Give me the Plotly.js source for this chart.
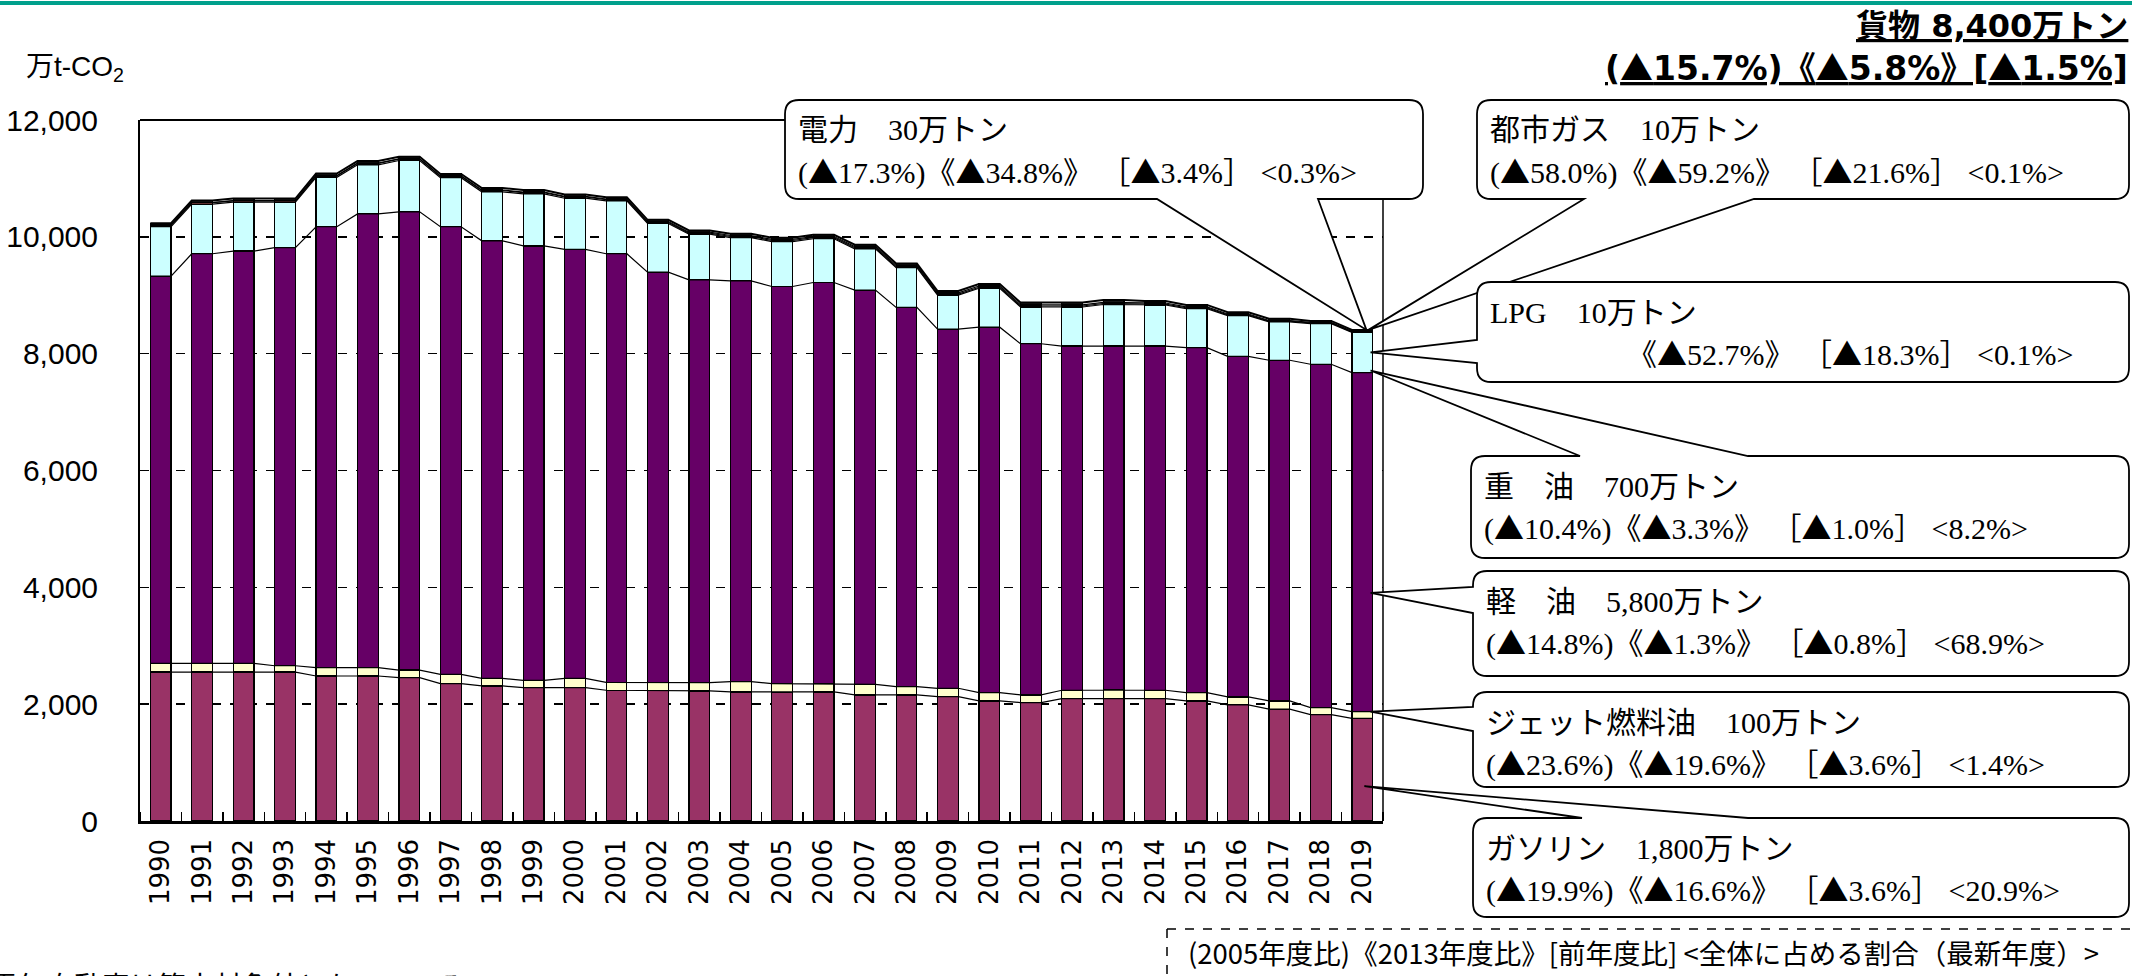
<!DOCTYPE html>
<html><head><meta charset="utf-8">
<script src="https://cdn.plot.ly/plotly-3.0.1.min.js"></script>
<style>html,body{margin:0;padding:0;background:#fff;}#chart{width:2132px;height:976px;}</style>
</head><body><div id="chart"></div>
<script>
// ---------- data (万t-CO2) ----------
const years = ['1990','1991','1992','1993','1994','1995','1996','1997','1998','1999','2000','2001','2002','2003','2004','2005','2006','2007','2008','2009','2010','2011','2012','2013','2014','2015','2016','2017','2018','2019'];
const gasoline    = [2550,2550,2550,2550,2482,2482,2454,2352,2312,2283,2283,2238,2238,2227,2210,2200,2210,2158,2158,2130,2056,2028,2096,2100,2096,2056,1988,1914,1820,1756];
const jetFuel     = [148,148,148,108,142,142,130,159,130,125,159,136,136,142,176,150,140,182,142,142,142,130,142,147,142,142,136,142,122,118];
const diesel      = [6628,7013,7059,7157,7549,7769,7844,7662,7489,7436,7344,7337,7021,6894,6860,6800,6868,6748,6493,6147,6255,6012,5892,5883,5892,5904,5831,5831,5877,5803];
const heavyOil    = [847,849,836,778,846,840,879,840,840,892,875,905,833,783,741,769,749,707,678,583,667,630,669,712,703,669,697,657,696,689];
const lpg         = [25,25,24,24,24,23,23,22,22,21,21,20,20,19,19,18,18,18,18,17,17,17,17,17,16,15,13,12,10,8];
const cityGas     = [3,3,4,4,5,6,7,8,9,10,11,12,13,15,17,19,20,21,21,21,21,21,20,20,18,16,14,12,10,8];
const electricity = [33,33,34,34,35,35,35,34,33,33,32,31,30,30,30,30,31,32,33,33,34,36,38,38,36,33,31,29,26,25];

const seriesNames  = ['ガソリン','ジェット燃料油','軽油','重油','LPG','都市ガス','電力'];
const seriesValues = [gasoline, jetFuel, diesel, heavyOil, lpg, cityGas, electricity];
const seriesColors = ['#993366','#FFFFCC','#660066','#CCFFFF','#FF8080','#9999FF','#1a1a1a'];

const yTicks = [0,2000,4000,6000,8000,10000,12000];
const totalTitle = ['貨物 8,400万トン','(▲15.7%)《▲5.8%》[▲1.5%]'];
const calloutTitles = ['電力　30万トン','都市ガス　10万トン','LPG　10万トン','重　油　700万トン','軽　油　5,800万トン','ジェット燃料油　100万トン','ガソリン　1,800万トン'];
const calloutRates = [
  '(▲17.3%)《▲34.8%》 ［▲3.4%］ &lt;0.3%&gt;',
  '(▲58.0%)《▲59.2%》 ［▲21.6%］ &lt;0.1%&gt;',
  '《▲52.7%》 ［▲18.3%］ &lt;0.1%&gt;',
  '(▲10.4%)《▲3.3%》 ［▲1.0%］ &lt;8.2%&gt;',
  '(▲14.8%)《▲1.3%》 ［▲0.8%］ &lt;68.9%&gt;',
  '(▲23.6%)《▲19.6%》 ［▲3.6%］ &lt;1.4%&gt;',
  '(▲19.9%)《▲16.6%》 ［▲3.6%］ &lt;20.9%&gt;'
];
const legendNote = '(2005年度比)《2013年度比》[前年度比] &lt;全体に占める割合（最新年度）&gt;';
const footNote = '電気自動車は算定対象外となっている';

// ---------- geometry ----------
const W=2132,H=976,L=140,R=1383,T=120,B=821;
const PW=R-L, PH=B-T, NCAT=years.length, YMAX=12000;
const X = px => (px-L)/PW;
const Y = py => (B-py)/PH;
const P = (px,py) => X(px).toFixed(5)+','+Y(py).toFixed(5);
const dataPx = (xd,v) => ({x: L+(xd+0.5)*PW/NCAT, y: B - v*PH/YMAX});
const tri = s => s.replace(/▲/g, '<span style="font-family:Noto Sans CJK JP">▲</span>');

const idx = years.map((_,i)=>i);
const traces = [];
seriesValues.forEach((vals,k)=>{
  traces.push({type:'bar', x:idx, y:vals, name:seriesNames[k], width:0.5,
    marker:{color:seriesColors[k], line:{color:'#000', width:1.2}}, hoverinfo:'skip'});
});
// series lines (connect top of each stacked segment)
const cum = [];
seriesValues.forEach((vals,k)=>{
  cum.push(vals.map((v,i)=> v + (k>0?cum[k-1][i]:0)));
});
cum.forEach((c,k)=>{
  const xs=[], ys=[];
  c.forEach((v,i)=>{ xs.push(i-0.25, i+0.25); ys.push(v, v); });
  traces.push({type:'scatter', mode:'lines', x:xs, y:ys, line:{color:'#000', width: k===cum.length-1?2:1.2}, hoverinfo:'skip'});
});

// ---------- callouts ----------
const boxes = [
  {x0:785, y0:100, x1:1423, y1:199, side:'bottom', a:1157, b:1318, s:6, f:1.0,  tx:29.1},
  {x0:1477,y0:100, x1:2129, y1:199, side:'bottom', a:1584, b:1754, s:6, f:1.0,  tx:29.15},
  {x0:1477,y0:282, x1:2129, y1:382, side:'left',   a:340,  b:363,  s:3, f:0.5,  tx:29.2},
  {x0:1471,y0:456, x1:2129, y1:558, side:'top',    a:1580, b:1748, s:3, f:0.05, tx:29.2},
  {x0:1473,y0:571, x1:2129, y1:676, side:'left',   a:587,  b:613,  s:2, f:0.35, tx:29.2},
  {x0:1473,y0:692, x1:2129, y1:787, side:'left',   a:707,  b:731,  s:1, f:1.0,  tx:29.2},
  {x0:1473,y0:818, x1:2129, y1:917, side:'top',    a:1582, b:1748, s:0, f:0.34, tx:29.05}
];
function calloutPath(b){
  const last = NCAT-1;
  const base = b.s>0 ? cum[b.s-1][last] : 0;
  const tip = dataPx(b.tx, base + b.f*seriesValues[b.s][last]);
  const r=14;
  let d='M'+P(b.x0+r,b.y0);
  if(b.side==='top') d+=' L'+P(b.a,b.y0)+' L'+P(tip.x,tip.y)+' L'+P(b.b,b.y0);
  d+=' L'+P(b.x1-r,b.y0)+' Q'+P(b.x1,b.y0)+' '+P(b.x1,b.y0+r);
  d+=' L'+P(b.x1,b.y1-r)+' Q'+P(b.x1,b.y1)+' '+P(b.x1-r,b.y1);
  if(b.side==='bottom') d+=' L'+P(b.b,b.y1)+' L'+P(tip.x,tip.y)+' L'+P(b.a,b.y1);
  d+=' L'+P(b.x0+r,b.y1)+' Q'+P(b.x0,b.y1)+' '+P(b.x0,b.y1-r);
  if(b.side==='left') d+=' L'+P(b.x0,b.b)+' L'+P(tip.x,tip.y)+' L'+P(b.x0,b.a);
  d+=' L'+P(b.x0,b.y0+r)+' Q'+P(b.x0,b.y0)+' '+P(b.x0+r,b.y0)+' Z';
  return d;
}

const shapes = [
  {type:'line', xref:'paper', yref:'paper', x0:X(0), x1:X(W), y0:Y(3), y1:Y(3), line:{color:'#00A08C', width:4}, layer:'above'},
  {type:'line', xref:'paper', yref:'paper', x0:0, x1:1, y0:1, y1:1, line:{color:'#000', width:1.8}, layer:'above'},
  {type:'line', xref:'paper', yref:'paper', x0:1, x1:1, y0:0, y1:1, line:{color:'#000', width:1.5}, layer:'above'},
  {type:'line', xref:'paper', yref:'paper', x0:X(1167), x1:X(W), y0:Y(929), y1:Y(929), line:{color:'#000', width:1.5, dash:'dash'}, layer:'above'},
  {type:'line', xref:'paper', yref:'paper', x0:X(1167), x1:X(1167), y0:Y(929), y1:Y(H), line:{color:'#000', width:1.5, dash:'dash'}, layer:'above'}
];
boxes.forEach(b=>{
  shapes.push({type:'path', xref:'paper', yref:'paper', path:calloutPath(b), fillcolor:'#fff', line:{color:'#000', width:1.8}, layer:'above'});
});

const serifFont = 'Liberation Serif, Noto Sans CJK JP, serif';
const annotations = [];
boxes.forEach((b,k)=>{
  annotations.push({xref:'paper', yref:'paper', x:X(b.x0+11), y:Y(b.y0+30), xanchor:'left', yanchor:'middle', showarrow:false,
    text:calloutTitles[k], font:{family:serifFont, size:30, color:'#000'}});
  annotations.push({xref:'paper', yref:'paper', x:X(k===2 ? b.x0+148 : b.x0+11), y:Y(b.y0+70), xanchor:'left', yanchor:'middle', showarrow:false,
    text:tri(calloutRates[k]), font:{family:serifFont, size:30, color:'#000'}});
});
annotations.push({xref:'paper', yref:'paper', x:X(2130), y:Y(26), xanchor:'right', yanchor:'middle', showarrow:false,
  text:'<b><u>'+totalTitle[0]+'</u></b>', font:{family:'DejaVu Sans, Noto Sans CJK JP', size:32, color:'#000'}});
annotations.push({xref:'paper', yref:'paper', x:X(2130), y:Y(66), xanchor:'right', yanchor:'middle', showarrow:false,
  text:'<b><u>'+tri(totalTitle[1])+'</u></b>', font:{family:'DejaVu Sans, Noto Sans CJK JP', size:33, color:'#000'}});
annotations.push({xref:'paper', yref:'paper', x:X(24), y:Y(68), xanchor:'left', yanchor:'middle', showarrow:false,
  text:'万t-CO<sub>2</sub>', font:{family:'Liberation Sans, Noto Sans CJK JP', size:28, color:'#000'}});
annotations.push({xref:'paper', yref:'paper', x:X(1186), y:Y(952), xanchor:'left', yanchor:'middle', showarrow:false,
  text:legendNote, font:{family:'Noto Sans CJK JP', size:27.5, color:'#000'}});
annotations.push({xref:'paper', yref:'paper', x:X(-12), y:Y(963), xanchor:'left', yanchor:'top', showarrow:false,
  text:footNote, font:{family:'Noto Sans CJK JP', size:28, color:'#000'}});

const layout = {
  width:W, height:H, margin:{l:L, r:W-R, t:T, b:H-B, pad:0},
  paper_bgcolor:'#fff', plot_bgcolor:'#fff', barmode:'stack', showlegend:false,
  xaxis:{range:[-0.5,NCAT-0.5], tickmode:'array', tickvals:idx, ticktext:years, tickangle:-90,
    ticks:'', showgrid:false, zeroline:false, showline:true, linecolor:'#000', linewidth:2.5,
    tickfont:{family:'DejaVu Sans', size:26, color:'#000'}, ticklabelstandoff:5,
    minor:{tickmode:'linear', tick0:0.5, dtick:1, ticks:'inside', ticklen:9, tickwidth:1.5, tickcolor:'#000', showgrid:false}},
  yaxis:{range:[0,YMAX], tickmode:'array', tickvals:yTicks, tickformat:',', ticks:'',
    showgrid:true, gridcolor:'#000', griddash:'dash', gridwidth:1.5, zeroline:false,
    showline:true, linecolor:'#000', linewidth:2,
    tickfont:{family:'Liberation Sans', size:30, color:'#000'}, ticklabelstandoff:34},
  shapes:shapes, annotations:annotations
};
Plotly.newPlot('chart', traces, layout, {staticPlot:true, displayModeBar:false});
</script></body></html>
